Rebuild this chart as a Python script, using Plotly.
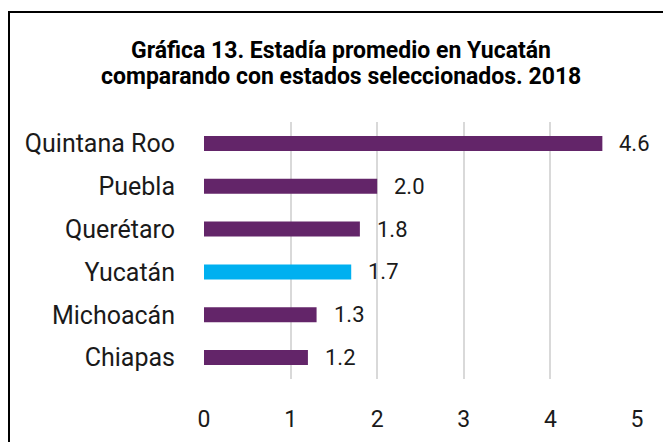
import plotly.graph_objects as go

categories = ["Quintana Roo", "Puebla", "Querétaro", "Yucatán", "Michoacán", "Chiapas"]
values = [4.6, 2.0, 1.8, 1.7, 1.3, 1.2]
value_labels = ["4.6", "2.0", "1.8", "1.7", "1.3", "1.2"]
x_ticks = [0, 1, 2, 3, 4, 5]
title_lines = ["Gráfica 13. Estadía promedio en Yucatán",
               "comparando con estados seleccionados. 2018"]

PURPLE = "#632569"
BLUE = "#00B0F0"
colors = [BLUE if c == "Yucatán" else PURPLE for c in categories]

fig = go.Figure()
fig.add_trace(go.Bar(
    x=values, y=categories, orientation="h",
    marker=dict(color=colors, line=dict(width=0)),
    hoverinfo="skip",
))

for c, v, lab in zip(categories, values, value_labels):
    fig.add_annotation(x=v, y=c, text=lab, showarrow=False,
                       xanchor="left", xshift=15,
                       font=dict(family="Roboto", size=22, color="#1a1a1a"))

W, H = 663, 442
L, R, T, B = 204, 637, 122, 379
pw, ph = R - L, B - T

def px(x):
    return (x - L) / pw

def py(y):
    return (B - y) / ph

# title lines as paper-referenced annotations
for line, yc in zip(title_lines, [50, 77]):
    fig.add_annotation(xref="paper", yref="paper", x=px(341), y=py(yc),
                       text="<b>" + line + "</b>", showarrow=False,
                       xanchor="center", yanchor="middle",
                       font=dict(family="Roboto", size=23, color="black"))

fig.add_shape(type="rect", xref="paper", yref="paper",
              x0=px(9), x1=px(690), y0=py(470), y1=py(12),
              line=dict(color="black", width=2), fillcolor="rgba(0,0,0,0)")

fig.update_layout(
    width=W, height=H,
    margin=dict(l=L, r=W - R, t=T, b=H - B, pad=0),
    paper_bgcolor="white", plot_bgcolor="white",
    bargap=0.65,
    showlegend=False,
    font=dict(family="Roboto", color="#1a1a1a"),
    xaxis=dict(range=[0, 5], tickvals=x_ticks, ticktext=[str(t) for t in x_ticks],
               showgrid=True, gridcolor="#d9d9d9", gridwidth=1.5,
               zeroline=False, showline=False, automargin=False,
               ticks="outside", ticklen=19, tickcolor="rgba(0,0,0,0)",
               tickfont=dict(family="Roboto", size=23, color="#1a1a1a"),
               fixedrange=True),
    yaxis=dict(categoryorder="array", categoryarray=categories[::-1],
               showgrid=False, zeroline=False, showline=False, automargin=False,
               ticks="outside", ticklen=23, tickcolor="rgba(0,0,0,0)",
               tickfont=dict(family="Roboto", size=25, color="#1a1a1a"),
               fixedrange=True),
)

fig.write_html("out.html", config={"displayModeBar": False},
               post_script="document.body.style.margin='0';document.body.style.overflow='hidden';")
